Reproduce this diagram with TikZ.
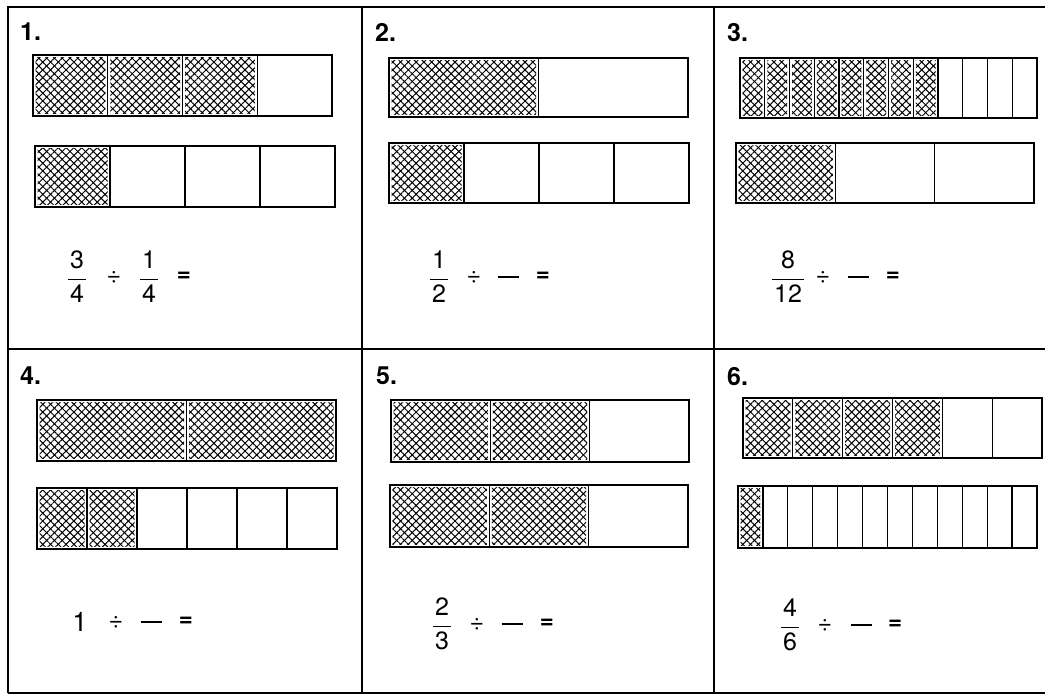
\documentclass[tikz,border=0pt]{standalone}
\usepackage{amsmath}
\usepackage{fontspec}
\setmainfont{TeX Gyre Heros}
\usepackage{tikz}
\usetikzlibrary{patterns.meta}

% x, y, width, height, parts, shaded parts
\newcommand{\partbar}[6]{%
  \foreach \k in {1,...,#6}
    \fill[hatch] ({#1+(\k-1)*#3/#5+2.5},{#2+2.5}) rectangle ({#1+\k*#3/#5-2.5},{#2+#4-2.5});
  \draw[bar] (#1,#2) rectangle ++(#3,#4);
  \foreach \k in {2,...,#5}
    \draw[bar] ({#1+(\k-1)*#3/#5},#2) -- ++(0,#4);
}
\newcommand{\fr}[2]{$\genfrac{}{}{1.3pt}{0}{\mbox{\kern2pt#1\kern2pt}}{\mbox{\kern2pt#2\kern2pt}}$}
\newcommand{\blank}{\rule{21pt}{2pt}}

\begin{document}
\begin{tikzpicture}[
    x=1pt, y=-1pt,
    frame/.style={line width=2.2pt},
    bar/.style={line width=1.3pt},
    hatch/.style={pattern={Lines[angle=45,distance=5.5pt,line width=1pt]},
                  postaction={pattern={Lines[angle=-45,distance=5.5pt,line width=1pt]}}},
    num/.style={anchor=north west, inner sep=0pt, font=\fontsize{25}{28}\selectfont\bfseries},
    eq/.style={inner sep=0pt, font=\fontsize{25}{28}\selectfont},
    equals/.style={eq, font=\fontsize{24}{28}\selectfont\bfseries}
]
\useasboundingbox (0,0) rectangle (1045,696);

% grid
\draw[frame] (8,693) -- (8,7) -- (1045,7);
\draw[frame] (8,349) -- (1045,349);
\draw[frame] (8,693) -- (1045,693);
\draw[frame] (362,7) -- (362,693);
\draw[frame] (714,7) -- (714,693);

% panel numbers
\node[num] (lab1) at (20,23) {1.};
\node[num] (lab2) at (375,23) {2.};
\node[num] (lab3) at (727,23) {3.};
\node[num] (lab4) at (20,367) {4.};
\node[num] (lab5) at (376,367) {5.};
\node[num] (lab6) at (727,367) {6.};

% bars
\partbar{33}{55}{299}{61}{4}{3}
\partbar{35}{146}{300}{61}{4}{1}
\partbar{389}{58}{299}{59}{2}{1}
\partbar{389}{143}{300}{60}{4}{1}
\partbar{740}{58}{297}{60}{12}{8}
\partbar{736}{143}{298}{60}{3}{1}
\partbar{37}{400}{299}{61}{2}{2}
\partbar{37}{488}{300}{61}{6}{2}
\partbar{391}{400}{298}{62}{3}{2}
\partbar{390}{485}{298}{62}{3}{2}
\partbar{743}{398}{299}{60}{6}{4}
\partbar{738}{486}{299}{62}{12}{1}

% equations
\node[eq] (a1) at (77,277) {\fr{3}{4}};
\node[eq] (d1) at (114,277) {÷};
\node[eq] (b1) at (149,277) {\fr{1}{4}};
\node[equals] (q1) at (184,277) {=};

\node[eq] (a2) at (439,277) {\fr{1}{2}};
\node[eq] (d2) at (474,277) {÷};
\node[eq] (b2) at (508,277) {\blank};
\node[equals] (q2) at (543,277) {=};

\node[eq] (a3) at (788,277) {\fr{8}{12}};
\node[eq] (d3) at (823,277) {÷};
\node[eq] (b3) at (858,277) {\blank};
\node[equals] (q3) at (893,277) {=};

\node[eq, font=\fontsize{27}{30}\selectfont] (a4) at (80,622) {1};
\node[eq] (d4) at (116,622) {÷};
\node[eq] (b4) at (151,622) {\blank};
\node[equals] (q4) at (186,622) {=};

\node[eq] (a5) at (442,624) {\fr{2}{3}};
\node[eq] (d5) at (477,624) {÷};
\node[eq] (b5) at (512,624) {\blank};
\node[equals] (q5) at (547,624) {=};

\node[eq] (a6) at (790,625) {\fr{4}{6}};
\node[eq] (d6) at (825,625) {÷};
\node[eq] (b6) at (861,625) {\blank};
\node[equals] (q6) at (895,625) {=};

\end{tikzpicture}
\end{document}
